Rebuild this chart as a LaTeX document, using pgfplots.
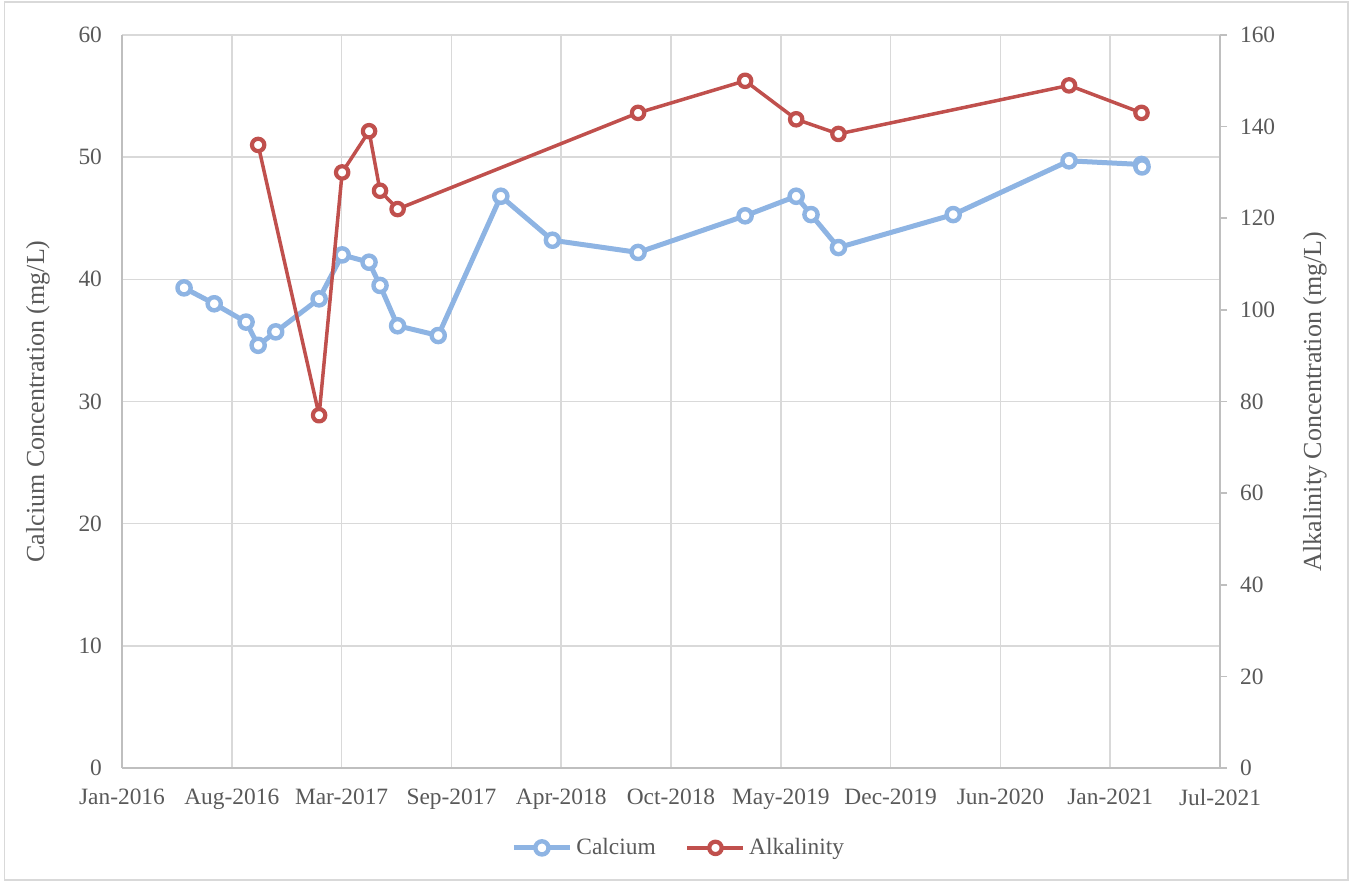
\documentclass[border=0pt]{standalone}
\usepackage{pgfplots}
\pgfplotsset{compat=1.18}
\usepackage{fontspec}
\setmainfont{Liberation Serif}
\definecolor{calblue}{HTML}{8EB4E3}
\definecolor{alkred}{HTML}{C0504D}
\definecolor{txt}{HTML}{595959}
\definecolor{gridc}{HTML}{D9D9D9}
\definecolor{axc}{HTML}{BFBFBF}

\pgfplotstableread{
day ca
113 39.3
168 38.0
226 36.5
248 34.6
280 35.7
359 38.4
401 42.0
450 41.4
470 39.5
502 36.2
576 35.4
690 46.8
784 43.2
940 42.2
1135 45.2
1228 46.8
1255 45.3
1305 42.6
1514 45.3
1725 49.7
1857 49.4
1858 49.2
}\calcium

\pgfplotstableread{
day alk
248 136.0
359 77.0
401 130.0
450 139.0
470 126.0
502 122.0
940 143.0
1135 150.0
1228 141.6
1305 138.4
1725 149.0
1857 143.0
}\alkalinity

\begin{document}
\begin{tikzpicture}
\useasboundingbox (0,0) rectangle (677.5pt,441pt);
\draw[gridc, line width=0.8pt] (2.2pt,1pt) rectangle (674pt,440pt);
\pgfplotsset{
  every axis/.append style={
    at={(61pt,57pt)}, anchor=south west, scale only axis,
    width=549pt, height=366.5pt,
    xmin=0, xmax=2000,
    font=\fontsize{11.7}{14}\selectfont,
    tick label style={color=txt, font=\fontsize{11.7}{14}\selectfont},
    /pgf/number format/assume math mode=true,
    axis line style={axc, line width=0.8pt},
  },
  calstyle/.style={calblue, line width=2.5pt, line join=round, mark=*, mark size=3.3pt,
    mark options={fill=white, draw=calblue, line width=2.2pt, solid}},
  alkstyle/.style={alkred, line width=1.75pt, line join=round, mark=*, mark size=3.1pt,
    mark options={fill=white, draw=alkred, line width=2.1pt, solid}},
}
\begin{axis}[
  axis y line*=left, axis x line*=bottom,
  ymin=0, ymax=60, ytick={0,10,...,60},
  xtick={0,200,...,2000},
  xticklabels={Jan-2016,Aug-2016,Mar-2017,Sep-2017,Apr-2018,Oct-2018,May-2019,Dec-2019,Jun-2020,Jan-2021,Jul-2021},
  grid=major, major grid style={gridc, line width=0.8pt},
  major tick length=0pt,
  yticklabel style={xshift=-6.5pt},
  xticklabel style={yshift=-7pt},
  every axis y label/.style={at={(axis description cs:-0.0765,0.5)}, anchor=center, rotate=90, color=txt, font=\fontsize{13}{15.6}\selectfont},
  ylabel={Calcium Concentration (mg/L)},
]
\addplot[calstyle] table[x=day, y=ca] {\calcium};
\end{axis}
\begin{axis}[
  axis y line*=right, axis x line=none,
  ymin=0, ymax=160, ytick={0,20,...,160},
  tick align=outside, major tick length=3.5pt,
  ytick style={axc, line width=0.8pt},
  yticklabel style={xshift=3pt},
  every axis y label/.style={at={(axis description cs:1.0865,0.5)}, anchor=center, rotate=90, color=txt, font=\fontsize{13}{15.6}\selectfont},
  ylabel={Alkalinity Concentration (mg/L)},
  legend style={at={(0.508,-0.109)}, anchor=center, draw=none, fill=none,
    legend columns=2, text=txt, font=\fontsize{11.7}{14}\selectfont,
    /tikz/every even column/.append style={column sep=13pt}},
  legend cell align=left,
  legend image code/.code={\draw[mark repeat=2, mark phase=2] plot coordinates {(0pt,0pt) (14pt,0pt) (28pt,0pt)};},
]
\addlegendimage{calstyle}
\addlegendentry{Calcium}
\addplot[alkstyle] table[x=day, y=alk] {\alkalinity};
\addlegendentry{Alkalinity}
\end{axis}
\end{tikzpicture}
\end{document}
